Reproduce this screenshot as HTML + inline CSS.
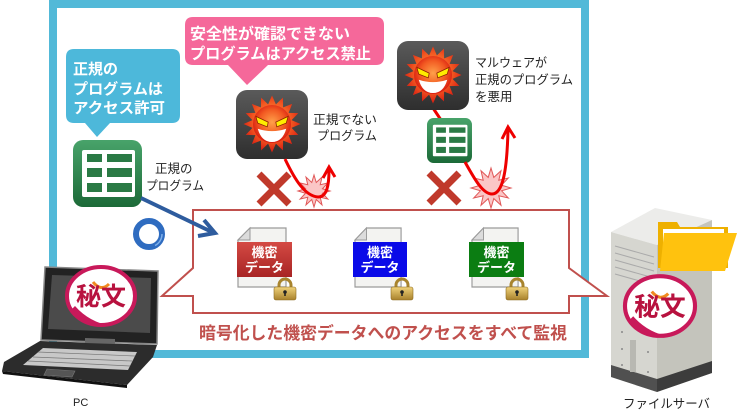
<!DOCTYPE html>
<html><head><meta charset="utf-8">
<style>
html,body{margin:0;padding:0;background:#fff;}
svg{display:block;}
text{font-family:"Liberation Sans","Noto Sans CJK JP",sans-serif;}
</style></head>
<body>
<svg width="740" height="419" viewBox="0 0 740 419" xmlns="http://www.w3.org/2000/svg">
<defs>
  <radialGradient id="sunG" cx="0.5" cy="0.45" r="0.55">
    <stop offset="0" stop-color="#ffa04a"/>
    <stop offset="0.6" stop-color="#f25a22"/>
    <stop offset="1" stop-color="#d81a10"/>
  </radialGradient>
  <linearGradient id="boxG" x1="0" y1="0" x2="0" y2="1">
    <stop offset="0" stop-color="#5a5a5a"/>
    <stop offset="1" stop-color="#2e2e2e"/>
  </linearGradient>
  <linearGradient id="grnG" x1="0" y1="0" x2="0" y2="1">
    <stop offset="0" stop-color="#48a36a"/>
    <stop offset="1" stop-color="#1c6a38"/>
  </linearGradient>
  <linearGradient id="goldG" x1="0" y1="0" x2="0" y2="1">
    <stop offset="0" stop-color="#f0d27a"/>
    <stop offset="1" stop-color="#a8812c"/>
  </linearGradient>
  <linearGradient id="redL" x1="0" y1="0" x2="0" y2="1">
    <stop offset="0" stop-color="#d44a44"/>
    <stop offset="1" stop-color="#a82424"/>
  </linearGradient>

  <g id="virus">
    <rect x="0" y="0" width="72" height="69" rx="11" fill="url(#boxG)"/>
    <g transform="translate(36,34) scale(0.95)">
      <polygon fill="url(#sunG)" points="30,0 20.6,4.1 27.7,11.5 17.5,11.7 21.2,21.2 11.7,17.5 11.5,27.7 4.1,20.6 0,30 -4.1,20.6 -11.5,27.7 -11.7,17.5 -21.2,21.2 -17.5,11.7 -27.7,11.5 -20.6,4.1 -30,0 -20.6,-4.1 -27.7,-11.5 -17.5,-11.7 -21.2,-21.2 -11.7,-17.5 -11.5,-27.7 -4.1,-20.6 0,-30 4.1,-20.6 11.5,-27.7 11.7,-17.5 21.2,-21.2 17.5,-11.7 27.7,-11.5 20.6,-4.1"/>
      <circle cx="0" cy="0" r="20" fill="url(#sunG)"/>
      <polygon points="-17,-8 -4,-2 -5,3 -15,-1" fill="#ffec00" stroke="#8a2000" stroke-width="0.8"/>
      <polygon points="17,-8 4,-2 5,3 15,-1" fill="#ffec00" stroke="#8a2000" stroke-width="0.8"/>
      <path d="M-15,5 Q0,10 15,5 Q11,19 0,19 Q-11,19 -15,5 Z" fill="#fff"/>
    </g>
  </g>

  <g id="sheet">
    <rect x="0" y="0" width="69" height="67" rx="10" fill="url(#grnG)"/>
    <rect x="9" y="10" width="53" height="47" rx="2" fill="#fff"/>
    <g fill="#2a7a45">
      <rect x="14" y="14" width="15" height="8"/>
      <rect x="34" y="14" width="25" height="8"/>
      <rect x="14" y="28" width="15" height="9"/>
      <rect x="34" y="28" width="25" height="9"/>
      <rect x="14" y="43" width="15" height="9"/>
      <rect x="34" y="43" width="25" height="9"/>
    </g>
  </g>

  <g id="burst">
    <polygon fill="#fbc6c6" stroke="#e05858" stroke-width="1" vector-effect="non-scaling-stroke" points="20,0 10.6,2.8 17.3,10 7.8,7.8 10,17.3 2.8,10.6 0,20 -2.8,10.6 -10,17.3 -7.8,7.8 -17.3,10 -10.6,2.8 -20,0 -10.6,-2.8 -17.3,-10 -7.8,-7.8 -10,-17.3 -2.8,-10.6 0,-20 2.8,-10.6 10,-17.3 7.8,-7.8 17.3,-10 10.6,-2.8"/>
  </g>

  <g id="lock">
    <path d="M6,11 V7 A6,6 0 0 1 18,7 V11" fill="none" stroke="#a8842e" stroke-width="3"/>
    <rect x="1" y="9" width="22" height="13" rx="2" fill="url(#goldG)" stroke="#8c6a20" stroke-width="0.6"/>
    <circle cx="12" cy="14" r="1.8" fill="#222"/>
    <rect x="11.2" y="14" width="1.6" height="4" fill="#222"/>
  </g>

  <g id="page">
    <path d="M12,0 H48 V59 H0 V12 Z" fill="#f3f3f1" stroke="#9a9a9a" stroke-width="1.2"/>
    <path d="M0,12 L12,0 L12,12 Z" fill="#dcdcdc" stroke="#9a9a9a" stroke-width="1"/>
  </g>

  <g id="logo">
    <ellipse cx="0" cy="0" rx="34" ry="29" fill="#fff" stroke="#c8195a" stroke-width="4"/>
    <path d="M-30,14 Q-20,32 10,30 Q-12,26 -26,10 Z" fill="#c8195a"/>
    <path d="M-8,-14 Q0,-4 8,-12" fill="none" stroke="#f08a20" stroke-width="3"/>
    <text x="0" y="9" text-anchor="middle" font-size="25" font-weight="bold" fill="#b8123f">秘文</text>
  </g>
</defs>

<!-- main frame -->
<rect x="53" y="4" width="532" height="350" fill="#fff" stroke="#52b9d8" stroke-width="8"/>

<!-- pink bubble -->
<path d="M193,17 H376 Q384,17 384,25 V57 Q384,65 376,65 H268 L247,85 L228,65 H193 Q185,65 185,57 V25 Q185,17 193,17 Z" fill="#f5689a"/>
<text x="190" y="39" font-size="15.5" font-weight="bold" fill="#fff" textLength="160" lengthAdjust="spacingAndGlyphs">安全性が確認できない</text>
<text x="190" y="59" font-size="15.5" font-weight="bold" fill="#fff" textLength="181" lengthAdjust="spacingAndGlyphs">プログラムはアクセス禁止</text>

<!-- blue bubble -->
<path d="M74,49 H172 Q180,49 180,57 V115 Q180,123 172,123 H110 L97,137 L85,123 H74 Q66,123 66,115 V57 Q66,49 74,49 Z" fill="#4db8da"/>
<text x="73" y="74" font-size="15" font-weight="bold" fill="#fff">正規の</text>
<text x="73" y="94" font-size="15" font-weight="bold" fill="#fff" textLength="90" lengthAdjust="spacingAndGlyphs">プログラムは</text>
<text x="73" y="113" font-size="15" font-weight="bold" fill="#fff" textLength="92" lengthAdjust="spacingAndGlyphs">アクセス許可</text>

<!-- green icon 1 -->
<use href="#sheet" transform="translate(73,140)"/>
<text x="155" y="173" font-size="12.5" fill="#222">正規の</text>
<text x="146" y="190" font-size="12.5" fill="#222" textLength="58" lengthAdjust="spacingAndGlyphs">プログラム</text>

<!-- ring -->
<circle cx="149" cy="234" r="13" fill="none" stroke="#2f6cc0" stroke-width="6"/>
<circle cx="149" cy="234" r="13" fill="none" stroke="#7fb0ea" stroke-width="1.5" stroke-dasharray="14 70"/>

<!-- virus 1 -->
<use href="#virus" transform="translate(236,90)"/>
<text x="313" y="124" font-size="12.5" fill="#222" textLength="64" lengthAdjust="spacingAndGlyphs">正規でない</text>
<text x="317" y="140" font-size="12.5" fill="#222" textLength="60" lengthAdjust="spacingAndGlyphs">プログラム</text>
<g stroke="#c0392b" stroke-width="7">
  <line x1="259" y1="174" x2="289" y2="204"/>
  <line x1="289" y1="174" x2="259" y2="204"/>
</g>
<use href="#burst" transform="translate(314,191) scale(0.8)"/>
<path d="M285,159 C295,180 305,196 318,197 C327,197 329,185 329,170" fill="none" stroke="#ee0000" stroke-width="3"/>
<polyline points="323,178 329,167 335,177" fill="none" stroke="#ee0000" stroke-width="3"/>

<!-- virus 2 -->
<line x1="433" y1="108" x2="441" y2="120" stroke="#ee0000" stroke-width="3"/>
<use href="#virus" transform="translate(397,41)"/>
<text x="475" y="67" font-size="12.5" fill="#222" textLength="72" lengthAdjust="spacingAndGlyphs">マルウェアが</text>
<text x="475" y="84" font-size="12.5" fill="#222" textLength="98" lengthAdjust="spacingAndGlyphs">正規のプログラム</text>
<text x="475" y="101" font-size="12.5" fill="#222">を悪用</text>
<use href="#sheet" transform="translate(427,118) scale(0.652,0.672)"/>
<g stroke="#c0392b" stroke-width="7">
  <line x1="429" y1="173" x2="459" y2="203"/>
  <line x1="459" y1="173" x2="429" y2="203"/>
</g>
<use href="#burst" transform="translate(491,188)"/>
<path d="M465,162 C475,180 483,194 492,194 C503,194 507,170 508,130" fill="none" stroke="#ee0000" stroke-width="3"/>
<polyline points="502,139 508,127 515,138" fill="none" stroke="#ee0000" stroke-width="3"/>

<!-- red callout -->
<path d="M193,210 H569 V268 L607,296 H569 V313 H193 V296 H162 L193,268 Z" fill="#fff" stroke="#c0504d" stroke-width="2"/>

<!-- blue arrow (over callout) -->
<line x1="141" y1="198" x2="214" y2="233" stroke="#2e5c9e" stroke-width="4"/>
<polyline points="204,220 215,233 198,236" fill="none" stroke="#2e5c9e" stroke-width="4" stroke-linejoin="miter"/>

<!-- docs -->
<use href="#page" transform="translate(238,228)"/>
<rect x="237" y="242" width="55" height="35" fill="url(#redL)"/>
<text x="264.5" y="257" text-anchor="middle" font-size="13" font-weight="bold" fill="#fff">機密</text>
<text x="264.5" y="272" text-anchor="middle" font-size="13" font-weight="bold" fill="#fff">データ</text>
<use href="#lock" transform="translate(273,278)"/>

<use href="#page" transform="translate(355,228) scale(0.96,1)"/>
<rect x="353" y="242" width="54" height="35" fill="#0a0ae8"/>
<text x="380" y="257" text-anchor="middle" font-size="13" font-weight="bold" fill="#fff">機密</text>
<text x="380" y="272" text-anchor="middle" font-size="13" font-weight="bold" fill="#fff">データ</text>
<use href="#lock" transform="translate(390,278)"/>

<use href="#page" transform="translate(472,228) scale(0.96,1)"/>
<rect x="469" y="242" width="55" height="35" fill="#0b7d12"/>
<text x="496.5" y="257" text-anchor="middle" font-size="13" font-weight="bold" fill="#fff">機密</text>
<text x="496.5" y="272" text-anchor="middle" font-size="13" font-weight="bold" fill="#fff">データ</text>
<use href="#lock" transform="translate(505,278)"/>

<text x="199" y="339" font-size="17" font-weight="bold" fill="#c0504d" textLength="368" lengthAdjust="spacingAndGlyphs">暗号化した機密データへのアクセスをすべて監視</text>

<!-- laptop -->
<polygon points="40,341 157,345 153,357 127,385 2,371 4,362" fill="#2c2c2c"/>
<polygon points="43,348 137,352 128,370 23,365" fill="#c8c8c8"/>
<g stroke="#777" stroke-width="0.7">
  <line x1="38" y1="352" x2="135" y2="356"/>
  <line x1="33" y1="357" x2="132" y2="361"/>
  <line x1="28" y1="361" x2="130" y2="366"/>
</g>
<polygon points="47,369 75,371 72,377 44,375" fill="#555" stroke="#777" stroke-width="0.6"/>
<polygon points="2,371 127,385 127,388 3,374" fill="#111"/>
<polygon points="45,267 158,271 157,344 41,340" fill="#222" stroke="#888" stroke-width="1.5"/>
<polygon points="52,275 151,278 150,333 48,329" fill="#4b4b4b"/>
<polygon points="85,338 115,339 115,344 85,343" fill="#666"/>
<use href="#logo" transform="translate(101,296)"/>
<text x="73" y="406" font-size="11" fill="#222">PC</text>

<!-- server -->
<polygon points="611,232 655,208 712,220 657,245" fill="#ececea"/>
<polygon points="611,232 657,245 657,392 611,377" fill="#d6d6d0"/>
<polygon points="657,245 712,220 712,373 657,392" fill="#c4c4bc"/>
<polygon points="611,365 657,379 657,392 611,377" fill="#505050"/>
<polygon points="657,379 712,361 712,373 657,392" fill="#3c3c3c"/>
<g stroke="#aaa" stroke-width="1">
  <line x1="615" y1="246" x2="654" y2="257"/>
  <line x1="615" y1="253" x2="654" y2="264"/>
  <line x1="615" y1="260" x2="654" y2="271"/>
  <line x1="615" y1="267" x2="654" y2="278"/>
  <line x1="615" y1="274" x2="654" y2="285"/>
</g>
<rect x="630" y="340" width="6" height="32" fill="#b8b8b2"/>
<g fill="#888">
  <circle cx="622" cy="332" r="1"/><circle cx="622" cy="349" r="1"/><circle cx="622" cy="365" r="1"/>
  <circle cx="648" cy="352" r="1"/><circle cx="648" cy="372" r="1"/>
</g>
<!-- folder -->
<polygon points="658,222 677,222 680,227 728,227 728,268 658,268" fill="#eeb000"/>
<rect x="663" y="229" width="61" height="34" fill="#fff"/>
<polygon points="664,233 737,233 725,271 660,271" fill="#ffc20e"/>
<use href="#logo" transform="translate(660,306) scale(1.03)"/>
<text x="623" y="408" font-size="12.5" fill="#222" textLength="87" lengthAdjust="spacingAndGlyphs">ファイルサーバ</text>
</svg>
</body></html>
